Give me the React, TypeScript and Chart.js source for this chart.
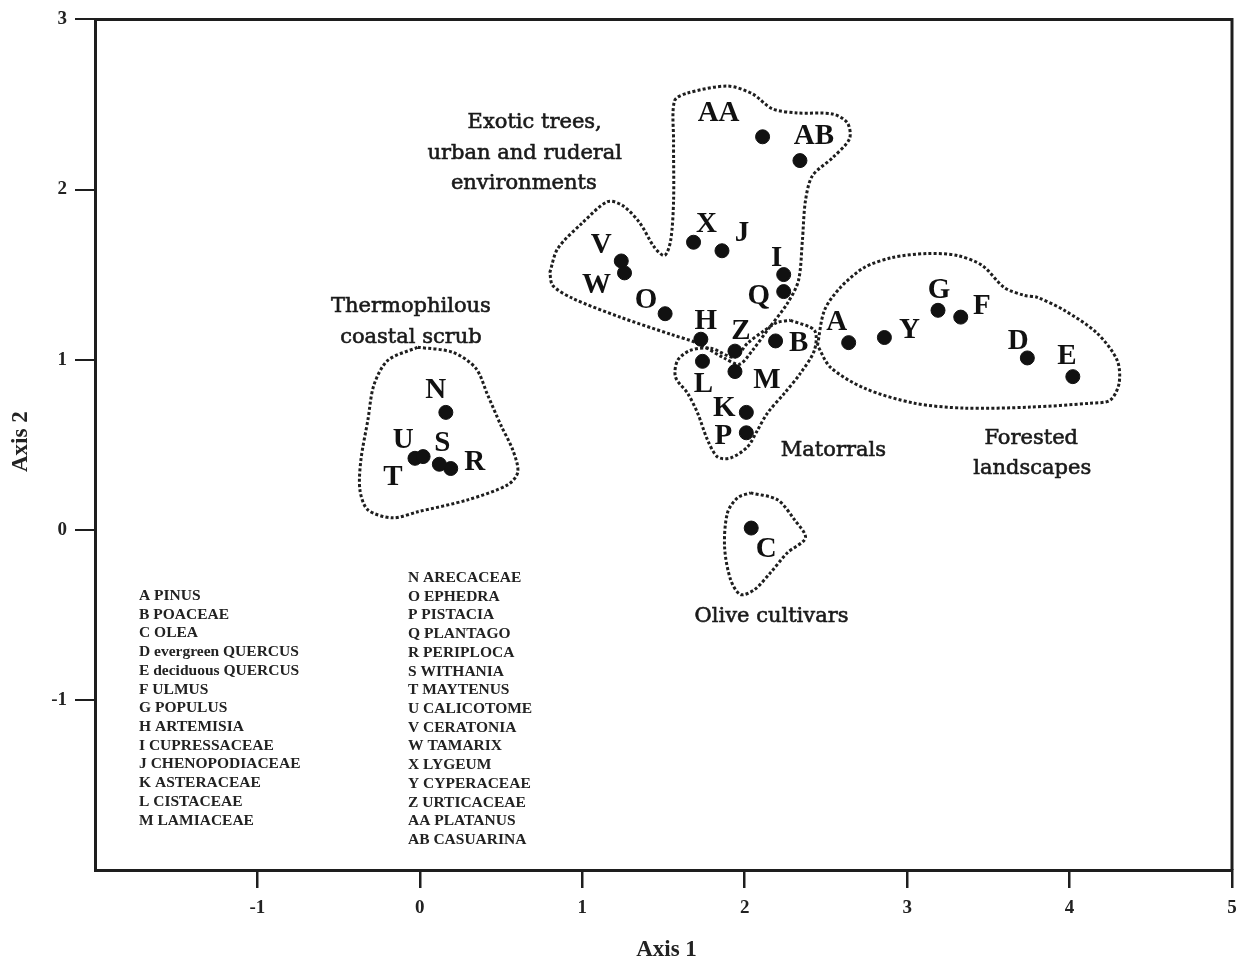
import React, { useEffect, useRef } from 'react';
import { Chart, registerables } from 'chart.js';
Chart.register(...registerables);

// ---- pollen taxa scores ----
const codes = ['A','B','C','D','E','F','G','H','I','J','K','L','M','N','O','P','Q','R','S','T','U','V','W','X','Y','Z','AA','AB'];
const taxa = ['PINUS','POACEAE','OLEA','evergreen QUERCUS','deciduous QUERCUS','ULMUS','POPULUS','ARTEMISIA','CUPRESSACEAE','CHENOPODIACEAE','ASTERACEAE','CISTACEAE','LAMIACEAE','ARECACEAE','EPHEDRA','PISTACIA','PLANTAGO','PERIPLOCA','WITHANIA','MAYTENUS','CALICOTOME','CERATONIA','TAMARIX','LYGEUM','CYPERACEAE','URTICACEAE','PLATANUS','CASUARINA'];
const axis1 = [2.64, 2.19, 2.04, 3.74, 4.02, 3.33, 3.19, 1.73, 2.24, 1.86, 2.01, 1.74, 1.94, 0.16, 1.51, 2.01, 2.24, 0.19, 0.12, -0.03, 0.02, 1.24, 1.26, 1.685, 2.86, 1.94, 2.11, 2.34];
const axis2 = [1.10, 1.11, 0.01, 1.01, 0.90, 1.25, 1.29, 1.12, 1.50, 1.64, 0.69, 0.99, 0.93, 0.69, 1.27, 0.57, 1.40, 0.36, 0.385, 0.42, 0.43, 1.58, 1.51, 1.69, 1.13, 1.05, 2.31, 2.17];

// label offsets from the dot (px)
const labelDx = [-12, 23, 15, -9, -6, 21, 1, 5, -7, 20, -22, 1, 32, -10, -19, -23, -25, 24, 3, -22, -20, -20, -28, 13, 25, 6, -44, 14];
const labelDy = [-20, 3, 21, -16, -20, -11, -20, -18, -16, -17, -4, 23, 9, -22, -13, 4, 5, -6, -21, 19, -16, -15, 13, -18, -7, -20, -23, -24];

// ---- group envelopes (dotted) ----
const thermoX = [-0.012, 0.203, 0.344, 0.418, 0.498, 0.572, 0.603, 0.541, 0.295, -0.012, -0.166, -0.320, -0.369, -0.363, -0.320, -0.283, -0.197, -0.012];
const thermoY = [1.073, 1.043, 0.950, 0.791, 0.616, 0.469, 0.340, 0.264, 0.176, 0.106, 0.070, 0.117, 0.234, 0.410, 0.645, 0.850, 0.996, 1.073];

const exoticX = [0.800, 0.849, 1.002, 1.156, 1.248, 1.353, 1.445, 1.507, 1.544, 1.562, 1.562, 1.568, 1.648, 1.894, 2.048, 2.171, 2.325, 2.540, 2.632, 2.645, 2.540, 2.417, 2.374, 2.355, 2.331, 2.263, 2.153, 2.048, 1.968, 1.876, 1.710, 1.544, 1.236, 0.941, 0.818, 0.800];
const exoticY = [1.512, 1.653, 1.805, 1.929, 1.906, 1.805, 1.659, 1.612, 1.700, 1.934, 2.286, 2.521, 2.567, 2.608, 2.562, 2.474, 2.450, 2.444, 2.392, 2.298, 2.186, 2.081, 1.934, 1.700, 1.465, 1.331, 1.190, 1.055, 0.973, 1.008, 1.096, 1.149, 1.249, 1.360, 1.436, 1.512];

const matorX = [2.282, 2.429, 2.429, 2.343, 2.245, 2.140, 2.079, 2.017, 1.913, 1.833, 1.771, 1.710, 1.648, 1.574, 1.587, 1.667, 1.790, 1.937, 2.017, 2.122, 2.202, 2.282];
const matorY = [1.231, 1.172, 1.055, 0.920, 0.803, 0.686, 0.586, 0.487, 0.422, 0.428, 0.528, 0.686, 0.803, 0.897, 0.996, 1.055, 1.067, 1.014, 1.096, 1.172, 1.219, 1.231];

const forestX = [2.448, 2.491, 2.589, 2.737, 2.909, 3.124, 3.309, 3.463, 3.598, 3.721, 3.801, 3.967, 4.170, 4.293, 4.305, 4.250, 4.127, 3.758, 3.352, 3.044, 2.737, 2.528, 2.448];
const forestY = [1.084, 1.290, 1.424, 1.542, 1.600, 1.624, 1.612, 1.553, 1.424, 1.378, 1.366, 1.290, 1.155, 0.996, 0.862, 0.762, 0.744, 0.721, 0.715, 0.744, 0.832, 0.955, 1.084];

const oliveX = [2.036, 2.202, 2.306, 2.374, 2.263, 2.159, 2.060, 1.974, 1.913, 1.876, 1.894, 1.956, 2.036];
const oliveY = [0.217, 0.176, 0.059, -0.047, -0.135, -0.252, -0.352, -0.381, -0.293, -0.100, 0.100, 0.188, 0.217];

// group captions: text, x, y (data units, centre of line)
const groupText = ['Exotic trees,', 'urban and ruderal', 'environments', 'Thermophilous', 'coastal scrub', 'Matorrals', 'Forested', 'landscapes', 'Olive cultivars'];
const groupX = [0.707, 0.646, 0.640, -0.055, -0.055, 2.546, 3.764, 3.770, 2.165];
const groupY = [2.392, 2.210, 2.034, 1.313, 1.131, 0.463, 0.539, 0.358, -0.510];

const xTicks = [-1, 0, 1, 2, 3, 4, 5];
const yTicks = [-1, 0, 1, 2, 3];

const INK = '#1e1e1e';

const toPts = (xs: number[], ys: number[]) => xs.map((v, i) => ({ x: v, y: ys[i] }));

const hull = (xs: number[], ys: number[]) => ({
  data: toPts(xs, ys),
  showLine: true,
  pointRadius: 0,
  borderColor: INK,
  borderWidth: 3,
  borderDash: [3, 2.2],
  tension: 0.3,
  fill: false,
  order: 2,
});

const overlay = {
  id: 'overlay',
  afterDraw(chart: any) {
    const { ctx, chartArea: a } = chart;
    const xs = chart.scales.x;
    const ys = chart.scales.y;
    ctx.save();
    // frame (top & right)
    ctx.strokeStyle = INK;
    ctx.lineWidth = 3;
    ctx.beginPath();
    ctx.moveTo(a.left - 1, a.top);
    ctx.lineTo(a.right, a.top);
    ctx.lineTo(a.right, a.bottom);
    ctx.stroke();

    // point labels
    const meta = chart.getDatasetMeta(0);
    ctx.fillStyle = '#111';
    ctx.font = 'bold 29px "Liberation Serif"';
    ctx.textAlign = 'center';
    ctx.textBaseline = 'middle';
    meta.data.forEach((el: any, i: number) => {
      ctx.fillText(codes[i], el.x + labelDx[i], el.y + labelDy[i]);
    });

    // group captions
    ctx.font = '21px "DejaVu Serif"';
    ctx.fillStyle = '#1a1a1a';
    ctx.strokeStyle = '#1a1a1a';
    ctx.lineWidth = 0.6;
    groupText.forEach((t, i) => {
      const px = xs.getPixelForValue(groupX[i]);
      const py = ys.getPixelForValue(groupY[i]);
      ctx.fillText(t, px, py);
      ctx.strokeText(t, px, py);
    });

    // key
    ctx.font = 'bold 15.5px "Liberation Serif"';
    ctx.textAlign = 'left';
    ctx.fillStyle = '#222';
    const lh = 18.72;
    codes.forEach((c, i) => {
      const txt = c + ' ' + taxa[i];
      if (i < 13) ctx.fillText(txt, a.left + 44, 596 + i * lh);
      else ctx.fillText(txt, a.left + 313, 578 + (i - 13) * lh);
    });

    // axis titles
    ctx.font = 'bold 23px "Liberation Serif"';
    ctx.textAlign = 'center';
    ctx.fillStyle = '#222';
    ctx.fillText('Axis 1', (a.left + a.right) / 2 + 3, 950);
    ctx.translate(21, (a.top + a.bottom) / 2 - 3);
    ctx.rotate(-Math.PI / 2);
    ctx.fillText('Axis 2', 0, 0);
    ctx.restore();
  },
};

export default function App() {
  const ref = useRef<HTMLCanvasElement | null>(null);
  useEffect(() => {
    if (!ref.current) return;
    const chart = new Chart(ref.current, {
      type: 'scatter',
      data: {
        datasets: [
          {
            data: toPts(axis1, axis2),
            pointRadius: 7,
            pointHoverRadius: 7,
            backgroundColor: '#111',
            borderColor: '#111',
            borderWidth: 1,
            order: 1,
          } as any,
          hull(thermoX, thermoY),
          hull(exoticX, exoticY),
          hull(matorX, matorY),
          hull(forestX, forestY),
          hull(oliveX, oliveY),
        ],
      },
      options: {
        animation: false,
        responsive: false,
        devicePixelRatio: 1,
        layout: { padding: { top: 17, right: 14, left: 0, bottom: 0 } },
        plugins: { legend: { display: false }, tooltip: { enabled: false } },
        scales: {
          x: {
            type: 'linear',
            position: 'bottom',
            min: -2,
            max: 5,
            afterBuildTicks: (s: any) => { s.ticks = xTicks.map((v) => ({ value: v })); },
            afterFit: (s: any) => { s.height = 90; },
            grid: { drawOnChartArea: false, drawTicks: true, tickLength: 18, color: INK, lineWidth: 2.5 },
            border: { display: true, color: INK, width: 3 },
            ticks: { color: '#222', font: { family: 'Liberation Serif', size: 19, weight: 'bold' }, padding: 9, maxRotation: 0 },
          },
          y: {
            type: 'linear',
            position: 'left',
            min: -2,
            max: 3,
            afterBuildTicks: (s: any) => { s.ticks = yTicks.map((v) => ({ value: v })); },
            afterFit: (s: any) => { s.width = 95; },
            grid: { drawOnChartArea: false, drawTicks: true, tickLength: 20, color: INK, lineWidth: 2 },
            border: { display: true, color: INK, width: 3 },
            ticks: { color: '#222', font: { family: 'Liberation Serif', size: 19, weight: 'bold' }, padding: 8 },
          },
        },
      } as any,
      plugins: [overlay],
    });
    return () => chart.destroy();
  }, []);
  return (
    <div style={{ position: 'absolute', left: 0, top: 0, width: 1246, height: 960, background: '#fff' }}>
      <canvas ref={ref} width={1246} height={960} style={{ width: 1246, height: 960, display: 'block' }} />
    </div>
  );
}
